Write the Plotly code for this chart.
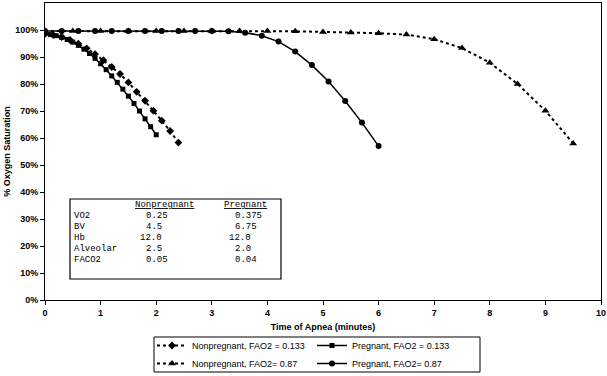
import plotly.graph_objects as go

# ---- data ----
t_np133 = [0, 0.15, 0.3, 0.45, 0.6, 0.75, 0.9, 1.05, 1.2, 1.35, 1.5, 1.65, 1.8, 1.95, 2.1, 2.25, 2.4]
s_np133 = [98.6, 98.1, 97.4, 96.3, 94.9, 93.2, 91.1, 88.8, 86.3, 83.7, 80.6, 77.1, 73.8, 70.1, 66.4, 62.6, 58.3]

t_p133 = [0, 0.1, 0.2, 0.3, 0.4, 0.5, 0.6, 0.7, 0.8, 0.9, 1.0, 1.1, 1.2, 1.3, 1.4, 1.5, 1.6, 1.7, 1.8, 1.9, 2.0]
s_p133 = [98.6, 98.3, 97.9, 97.3, 96.5, 95.5, 94.3, 92.9, 91.3, 89.5, 87.5, 85.3, 83.0, 80.6, 78.1, 75.5, 72.8, 70.0, 67.1, 64.2, 61.2]

t_np87 = [0, 0.5, 1.0, 1.5, 2.0, 2.5, 3.0, 3.5, 4.0, 4.5, 5.0, 5.5, 6.0, 6.5, 7.0, 7.5, 8.0, 8.5, 9.0, 9.5]
s_np87 = [99.6, 99.6, 99.6, 99.6, 99.6, 99.6, 99.6, 99.6, 99.6, 99.5, 99.3, 99.1, 98.8, 98.3, 96.6, 93.3, 87.9, 80.0, 70.1, 58.0]

t_p87 = [0, 0.3, 0.6, 0.9, 1.2, 1.5, 1.8, 2.1, 2.4, 2.7, 3.0, 3.3, 3.6, 3.9, 4.2, 4.5, 4.8, 5.1, 5.4, 5.7, 6.0]
s_p87 = [99.6, 99.6, 99.6, 99.6, 99.6, 99.6, 99.6, 99.6, 99.6, 99.6, 99.6, 99.5, 99.0, 97.9, 95.7, 92.0, 87.0, 80.9, 73.7, 65.7, 57.0]

x_ticks = [0, 1, 2, 3, 4, 5, 6, 7, 8, 9, 10]
y_ticks = [0, 10, 20, 30, 40, 50, 60, 70, 80, 90, 100]
y_ticklabels = ["0%", "10%", "20%", "30%", "40%", "50%", "60%", "70%", "80%", "90%", "100%"]

params = ["VO2", "BV", "Hb", "Alveolar", "FACO2"]
nonpreg_vals = ["0.25", "4.5", "12.0", "2.5", "0.05"]
preg_vals = ["0.375", "6.75", "12.0", "2.0", "0.04"]
col_headers = ["Nonpregnant", "Pregnant"]

# ---- layout geometry (pixels) ----
W, H = 607, 376
L, R, T, B = 45, 6, 3, 76
pw, ph = W - L - R, H - T - B


def px_x(p):
    return (p - L) / pw


def px_y(p):
    return (H - B - p) / ph


fig = go.Figure()
black = "black"
fig.add_trace(go.Scatter(x=t_np87, y=s_np87, mode="lines+markers", name="Nonpregnant, FAO2= 0.87",
                         line=dict(color=black, width=2, dash="dot"),
                         marker=dict(symbol="triangle-up", size=7, color=black), legend="legend2"))
fig.add_trace(go.Scatter(x=t_p87, y=s_p87, mode="lines+markers", name="Pregnant, FAO2= 0.87",
                         line=dict(color=black, width=1.5),
                         marker=dict(symbol="circle", size=6, color=black), legend="legend2"))
fig.add_trace(go.Scatter(x=t_np133, y=s_np133, mode="lines+markers", name="Nonpregnant, FAO2 = 0.133",
                         line=dict(color=black, width=2, dash="dot"),
                         marker=dict(symbol="diamond", size=6, color=black), legend="legend"))
fig.add_trace(go.Scatter(x=t_p133, y=s_p133, mode="lines+markers", name="Pregnant, FAO2 = 0.133",
                         line=dict(color=black, width=1.5),
                         marker=dict(symbol="square", size=5, color=black), legend="legend"))

axfont = dict(family="Liberation Sans, Arial", size=9, color=black, weight="bold")
legfont = dict(family="Liberation Sans, Arial", size=9, color=black)

fig.update_layout(
    width=W, height=H,
    margin=dict(l=L, r=R, t=T, b=B, autoexpand=False),
    paper_bgcolor="white", plot_bgcolor="white",
    showlegend=True,
    legend=dict(orientation="h", x=px_x(152), y=px_y(331), xanchor="left", yanchor="top",
                traceorder="normal", entrywidth=115, entrywidthmode="pixels",
                font=legfont, bgcolor="rgba(0,0,0,0)", tracegroupgap=0, itemwidth=30),
    legend2=dict(orientation="h", x=px_x(152), y=px_y(349), xanchor="left", yanchor="top",
                 traceorder="normal", entrywidth=115, entrywidthmode="pixels",
                 font=legfont, bgcolor="rgba(0,0,0,0)", tracegroupgap=0, itemwidth=30),
    xaxis=dict(range=[0, 10], tickvals=x_ticks, ticks="outside", ticklen=4, tickcolor=black,
               showline=True, linecolor=black, linewidth=1, mirror=True, showgrid=False,
               zeroline=False, tickfont=axfont, automargin=False,
               title=dict(text="Time of Apnea (minutes)", font=axfont, standoff=6)),
    yaxis=dict(range=[0, 110], tickvals=y_ticks, ticktext=y_ticklabels, ticks="outside", ticklen=4,
               tickcolor=black, showline=True, linecolor=black, linewidth=1, mirror=True,
               showgrid=False, zeroline=False, tickfont=axfont, automargin=False,
               title=dict(text="% Oxygen Saturation", font=axfont, standoff=3)),
)

# legend border
fig.add_shape(type="rect", xref="paper", yref="paper",
              x0=px_x(154), x1=px_x(480), y0=px_y(372), y1=px_y(337),
              line=dict(color=black, width=1), fillcolor="rgba(0,0,0,0)", layer="above")

# parameter table box
fig.add_shape(type="rect", xref="paper", yref="paper",
              x0=px_x(70), x1=px_x(281), y0=px_y(279), y1=px_y(199),
              line=dict(color=black, width=1.2), fillcolor="white", layer="above")

mono = dict(family="Liberation Mono, Courier New, monospace", size=9, color=black)
charw = 5.4
row_y = [216, 227, 238, 249, 260]
header_y = 205
label_x = 72
np_col_x = 133
p_col_x = 222
np_dec_x = np_col_x + 3 * charw
p_dec_x = p_col_x + 3 * charw


def add_text(txt, xp, yp):
    fig.add_annotation(text=txt, xref="paper", yref="paper", x=px_x(xp), y=px_y(yp),
                       xanchor="left", yanchor="middle", showarrow=False, font=mono)


add_text("<u>" + col_headers[0] + "</u>", np_col_x, header_y)
add_text("<u>" + col_headers[1] + "</u>", p_col_x, header_y)
for i, p in enumerate(params):
    add_text(p, label_x, row_y[i])
    v = nonpreg_vals[i]
    add_text(v, np_dec_x - v.index(".") * charw, row_y[i])
    v = preg_vals[i]
    add_text(v, p_dec_x - v.index(".") * charw, row_y[i])

fig.write_html("out.html", config={"displayModeBar": False},
               post_script="document.body.style.margin='0';document.body.style.overflow='hidden';")
